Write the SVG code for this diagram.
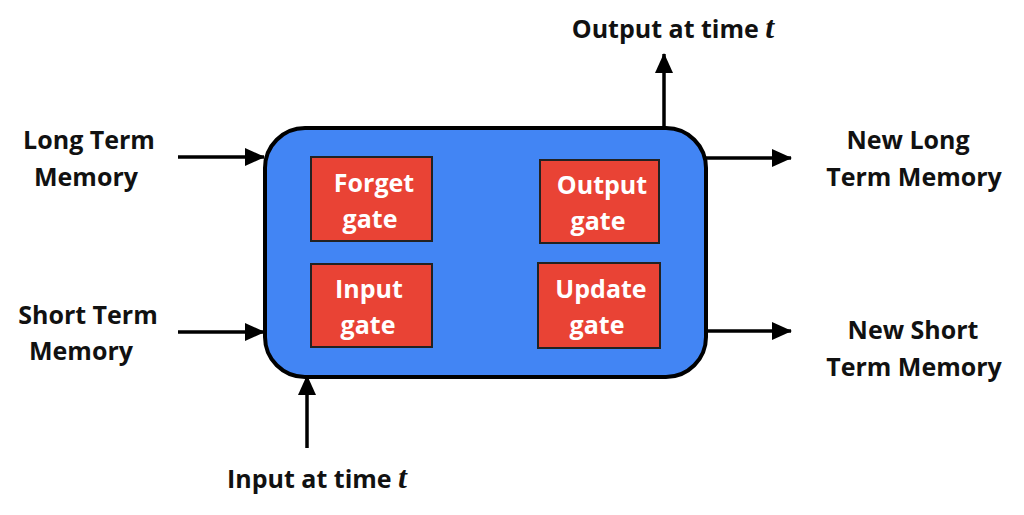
<svg xmlns="http://www.w3.org/2000/svg" width="1024" height="515" viewBox="0 0 1024 515">
<defs>
<marker id="ah" markerWidth="20" markerHeight="20" refX="19" refY="10" orient="auto" markerUnits="userSpaceOnUse" viewBox="0 0 20 20">
<path d="M0,1 L20,10 L0,19 z" fill="#000"/>
</marker>
<style>
.lbl{font-family:"Open Sans","Liberation Sans",sans-serif;font-weight:bold;font-size:25px;fill:#111;text-anchor:middle}
.gt{font-family:"Open Sans","Liberation Sans",sans-serif;font-weight:bold;font-size:25px;fill:#fff;text-anchor:middle}
.gate{fill:#e94335;stroke:#222;stroke-width:2}
.mt{font-family:"Liberation Serif",serif;font-style:italic;font-weight:bold}
.c{stroke:#000;stroke-width:3.5;fill:none}
</style>
</defs>
<rect width="1024" height="515" fill="#fff"/>
<g id="cell">
<rect x="265" y="128" width="441" height="249" rx="40" ry="40" fill="#4285f4" stroke="#000" stroke-width="4"/>
</g>
<g id="forget"><rect class="gate" x="311" y="157" width="121" height="84"/><text class="gt" x="374" y="192">Forget</text><text class="gt" x="370" y="228">gate</text></g>
<g id="output"><rect class="gate" x="540" y="160" width="119" height="83"/><text class="gt" x="602" y="194">Output</text><text class="gt" x="598" y="230">gate</text></g>
<g id="input"><rect class="gate" x="311" y="264" width="121" height="83"/><text class="gt" x="369" y="298">Input</text><text class="gt" x="368" y="334">gate</text></g>
<g id="update"><rect class="gate" x="538" y="263" width="122" height="85"/><text class="gt" x="601" y="298">Update</text><text class="gt" x="597" y="334">gate</text></g>
<g id="connectors">
<line class="c" x1="178" y1="157" x2="264" y2="157" marker-end="url(#ah)"/>
<line class="c" x1="178" y1="332" x2="264" y2="332" marker-end="url(#ah)"/>
<line class="c" x1="706" y1="158" x2="791" y2="158" marker-end="url(#ah)"/>
<line class="c" x1="706" y1="331" x2="791" y2="331" marker-end="url(#ah)"/>
<line class="c" x1="664" y1="128" x2="664" y2="54" marker-end="url(#ah)"/>
<line class="c" x1="307" y1="448" x2="307" y2="376" marker-end="url(#ah)"/>
</g>
<g id="lbl-ltm"><text class="lbl" x="89" y="149">Long Term</text><text class="lbl" x="86" y="186">Memory</text></g>
<g id="lbl-stm"><text class="lbl" x="88" y="324">Short Term</text><text class="lbl" x="81" y="360">Memory</text></g>
<g id="lbl-nltm"><text class="lbl" x="908" y="149">New Long</text><text class="lbl" x="914" y="186">Term Memory</text></g>
<g id="lbl-nstm"><text class="lbl" x="913" y="339">New Short</text><text class="lbl" x="914" y="376">Term Memory</text></g>
<g id="lbl-out"><text class="lbl" x="673" y="38">Output at time <tspan class="mt" font-size="32">t</tspan></text></g>
<g id="lbl-in"><text class="lbl" x="317" y="488">Input at time <tspan class="mt" font-size="32">t</tspan></text></g>
</svg>
